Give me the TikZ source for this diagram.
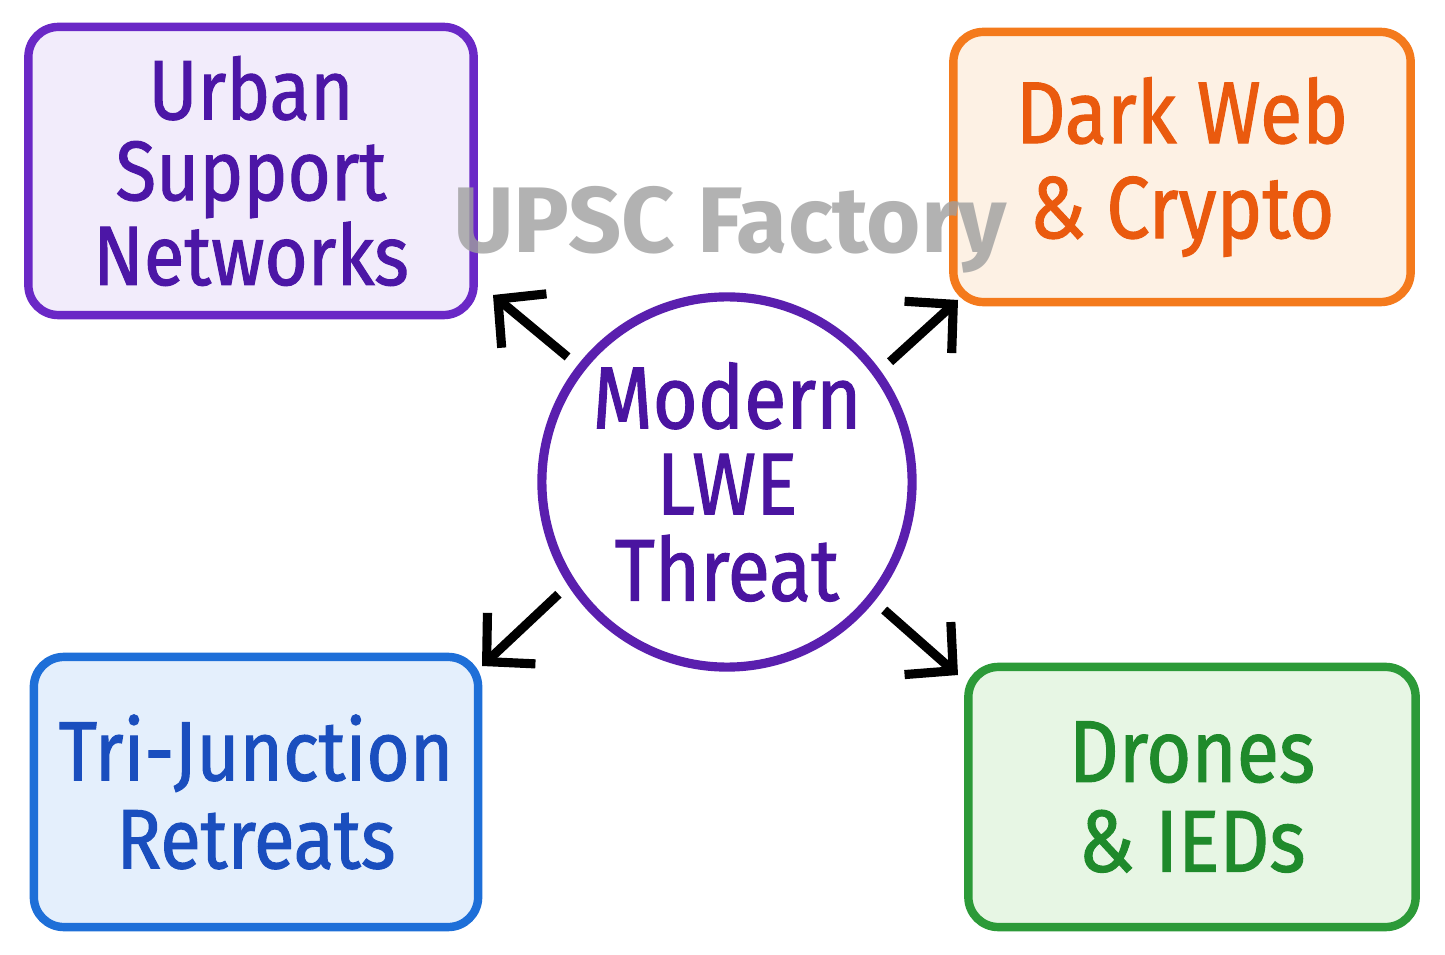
\documentclass[tikz,border=0pt]{standalone}
\usepackage{fontspec}
\setmainfont{Fira Sans}[FakeStretch=0.88, FakeBold=1.2]
\newfontfamily\markfont{Fira Sans}[BoldFont={* Bold}]
\usetikzlibrary{arrows.meta}
\definecolor{urbanline}{HTML}{6A28C6}
\definecolor{urbanfill}{HTML}{F2ECFB}
\definecolor{urbantext}{HTML}{4C16A6}
\definecolor{darkline}{HTML}{F47A1C}
\definecolor{darkfill}{HTML}{FDF1E4}
\definecolor{darktext}{HTML}{EA5A0E}
\definecolor{triline}{HTML}{1E6FD8}
\definecolor{trifill}{HTML}{E4EFFC}
\definecolor{tritext}{HTML}{1A4EBE}
\definecolor{droneline}{HTML}{2C9A38}
\definecolor{dronefill}{HTML}{E7F6E4}
\definecolor{dronetext}{HTML}{1F8A2B}
\definecolor{hubline}{HTML}{5A1FAE}
\definecolor{hubtext}{HTML}{4A14A0}
\begin{document}
\begin{tikzpicture}[x=0.01cm, y=-0.01cm,
  box/.style={draw, line width=2.4pt, rounded corners=3mm, align=center, inner sep=0pt,
    font=\fontsize{24}{23}\selectfont},
  arr/.style={line width=2.6pt, -{Straight Barb[length=3.4mm,width=7mm,line width=2.6pt]}}]
\useasboundingbox[fill=white] (0,0) rectangle (1445,955);
\node[box, draw=urbanline, fill=urbanfill, text=urbantext, minimum width=4.45cm, minimum height=2.88cm] (urban) at (251, 171) {Urban\\Support\\Networks};
\node[box, draw=darkline, fill=darkfill, text=darktext, minimum width=4.57cm, minimum height=2.7cm, font=\fontsize{25}{27}\selectfont] (dark) at (1182, 167) {Dark Web\\\& Crypto};
\node[box, draw=triline, fill=trifill, text=tritext, minimum width=4.44cm, minimum height=2.7cm, font=\fontsize{24}{25}\selectfont] (tri) at (256, 792) {Tri-Junction\\Retreats};
\node[box, draw=droneline, fill=dronefill, text=dronetext, minimum width=4.47cm, minimum height=2.6cm, font=\fontsize{25}{25.5}\selectfont] (drone) at (1192, 797) {Drones\\\& IEDs};
\node[circle, draw=hubline, line width=2.6pt, fill=white, text=hubtext, inner sep=0pt, minimum size=3.7cm, align=center, font=\fontsize{25}{24.5}\selectfont] (hub) at (727, 482) {Modern\\LWE\\Threat};
\coordinate (tipU) at (493, 295);
\coordinate (tipD) at (958, 300);
\coordinate (tipT) at (482, 666);
\coordinate (tipR) at (958, 675);
\draw[arr, shorten <=1.3mm] (hub.142) -- (tipU);
\draw[arr, shorten <=1.3mm] (hub.36) -- (tipD);
\draw[arr, shorten <=1.3mm] (hub.213) -- (tipT);
\draw[arr, shorten <=1.3mm] (hub.321) -- (tipR);
\node[text=gray!75, opacity=0.8, font=\markfont\bfseries\fontsize{26.5}{26.5}\selectfont] (mark) at (730, 230) {UPSC Factory};
\end{tikzpicture}
\end{document}
